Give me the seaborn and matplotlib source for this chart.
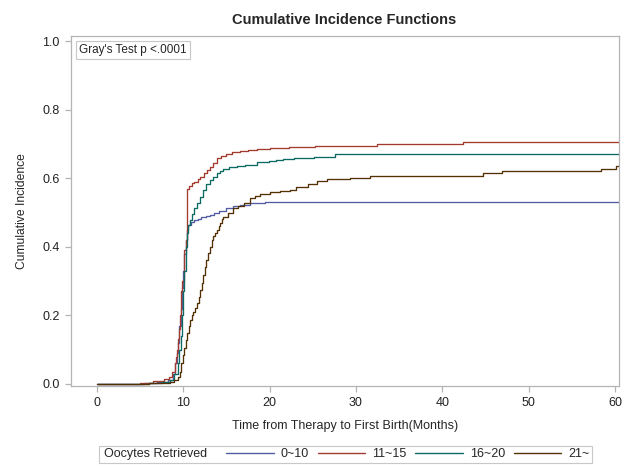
"""
Cumulative incidence of first birth by number of oocytes retrieved.
Step curves read off the published figure.
"""

import pandas as pd
import matplotlib.pyplot as plt
import seaborn as sns
from matplotlib.lines import Line2D
from matplotlib.patches import Rectangle

groups = ["0~10", "11~15", "16~20", "21~"]
colors = ["#525ca2", "#A23A2E", "#0b6a62", "#543005"]

# months since therapy / cumulative incidence (step starts)
t_0_10 = [0, 5.5, 7.0, 8.3, 8.8, 9.1, 9.25, 9.4, 9.55, 9.7, 9.85, 10.0, 10.15,
          10.3, 10.45, 10.6, 10.9, 11.3, 11.7, 12.1, 12.6, 13.1, 13.6, 14.2,
          15.0, 15.8, 16.6, 17.7, 19.5, 60.4]
cif_0_10 = [0, 0.003, 0.006, 0.012, 0.03, 0.06, 0.09, 0.12, 0.17, 0.22, 0.28,
            0.33, 0.38, 0.42, 0.45, 0.465, 0.472, 0.478, 0.482, 0.486, 0.490,
            0.494, 0.499, 0.505, 0.512, 0.518, 0.523, 0.528, 0.531, 0.531]

t_11_15 = [0, 5.0, 6.5, 7.8, 8.4, 8.7, 9.06, 9.2, 9.3, 9.4, 9.5, 9.6, 9.7, 9.8,
           9.9, 10.05, 10.15, 10.3, 10.4, 10.45, 10.7, 11.0, 11.3, 11.7, 12.0,
           12.4, 12.8, 13.1, 13.5, 13.9, 14.4, 15.0, 15.7, 16.6, 17.5, 18.5,
           20.0, 22.2, 25.3, 32.4, 42.4, 60.4]
cif_11_15 = [0, 0.003, 0.01, 0.014, 0.02, 0.035, 0.06, 0.08, 0.10, 0.13, 0.16,
             0.20, 0.235, 0.27, 0.30, 0.36, 0.39, 0.42, 0.50, 0.57, 0.578,
             0.585, 0.59, 0.598, 0.605, 0.615, 0.625, 0.633, 0.645, 0.658,
             0.665, 0.672, 0.676, 0.680, 0.683, 0.686, 0.687, 0.690, 0.693,
             0.700, 0.706, 0.706]

t_16_20 = [0, 6.0, 7.5, 8.5, 9.0, 9.4, 9.55, 9.7, 9.85, 10.0, 10.15, 10.3,
           10.45, 10.6, 10.8, 11.0, 11.3, 11.6, 11.9, 12.3, 12.7, 13.1, 13.5,
           13.9, 14.3, 14.65, 15.3, 16.2, 17.2, 18.5, 19.9, 20.8, 21.6, 22.8,
           25.1, 27.6, 60.4]
cif_16_20 = [0, 0.003, 0.006, 0.012, 0.03, 0.06, 0.10, 0.14, 0.20, 0.27, 0.33,
             0.40, 0.44, 0.465, 0.478, 0.495, 0.512, 0.527, 0.545, 0.566,
             0.582, 0.595, 0.605, 0.614, 0.621, 0.627, 0.632, 0.636, 0.640,
             0.647, 0.650, 0.653, 0.656, 0.658, 0.663, 0.670, 0.670]

t_21 = [0, 6.0, 7.5, 8.5, 9.0, 9.4, 9.6, 9.8, 10.0, 10.15, 10.3, 10.5, 10.65,
        10.8, 11.0, 11.2, 11.4, 11.6, 11.8, 12.0, 12.15, 12.35, 12.5, 12.7,
        12.9, 13.1, 13.3, 13.5, 13.7, 13.9, 14.1, 14.3, 14.5, 14.65, 15.2,
        15.8, 16.4, 17.0, 17.7, 18.3, 18.9, 20.1, 21.2, 22.4, 23.1, 24.5,
        25.5, 26.6, 29.3, 31.6, 44.7, 46.9, 58.4, 60.1, 60.4]
cif_21 = [0, 0.002, 0.004, 0.007, 0.012, 0.021, 0.035, 0.06, 0.085, 0.105,
          0.128, 0.15, 0.17, 0.187, 0.20, 0.21, 0.222, 0.235, 0.255, 0.275,
          0.294, 0.318, 0.34, 0.362, 0.383, 0.40, 0.42, 0.432, 0.441, 0.449,
          0.46, 0.47, 0.48, 0.488, 0.50, 0.512, 0.52, 0.527, 0.541, 0.547,
          0.553, 0.559, 0.563, 0.567, 0.575, 0.582, 0.592, 0.598, 0.601,
          0.608, 0.614, 0.621, 0.627, 0.636, 0.636]

x_ticks = [0, 10, 20, 30, 40, 50, 60]
y_ticks = [0.0, 0.2, 0.4, 0.6, 0.8, 1.0]

df = pd.concat([
    pd.DataFrame({"time": t, "cif": c, "group": g})
    for g, t, c in zip(groups, [t_0_10, t_11_15, t_16_20, t_21],
                       [cif_0_10, cif_11_15, cif_16_20, cif_21])
], ignore_index=True)

sns.set_style("ticks")
plt.rcParams["font.family"] = ["Liberation Sans", "DejaVu Sans"]
frame_gray = "#b4b4b4"

W, H = 633, 467
fig = plt.figure(figsize=(W / 100, H / 100), dpi=100)
ax = fig.add_axes([70.5 / W, 1 - 386 / H, 548.2 / W, 350 / H])

sns.lineplot(data=df, x="time", y="cif", hue="group", hue_order=groups,
             palette=dict(zip(groups, colors)), estimator=None, sort=False,
             drawstyle="steps-post", lw=0.95, legend=False, ax=ax)

ax.set_xlim(-3.03, 60.4)
ax.set_ylim(-0.006, 1.015)
ax.set_xticks(x_ticks)
ax.set_yticks(y_ticks)
ax.set_yticklabels([f"{v:.1f}" for v in y_ticks])
for s in ax.spines.values():
    s.set_visible(True)
    s.set_color(frame_gray)
    s.set_linewidth(0.9)
ax.tick_params(length=4, width=0.9, color=frame_gray, labelsize=9,
               labelcolor="#222222", pad=4)

ax.set_xlabel("Time from Therapy to First Birth(Months)", fontsize=9)
ax.set_ylabel("Cumulative Incidence", fontsize=8.7)
ax.xaxis.set_label_coords(0.5, (386 - 420) / 350)
ax.yaxis.set_label_coords((28 - 70.5) / 548.2, 0.5)

fig.text(344.6 / W, 1 - 19.5 / H, "Cumulative Incidence Functions",
         ha="center", va="center", fontsize=10.5, fontweight="bold")

ax.text(0.0155, 0.978, "Gray's Test p <.0001", transform=ax.transAxes,
        ha="left", va="top", fontsize=8.5,
        bbox=dict(boxstyle="square,pad=0.25", fc="white", ec="#c8c8c8", lw=0.8))

# legend: inline title + four entries inside one frame
leg_y = 1 - 454.4 / H
fig.text(103.5 / W, leg_y, "Oocytes Retrieved", ha="left", va="center", fontsize=9)
handles = [Line2D([], [], color=c, lw=1.0) for c in colors]
fig.legend(handles, groups, ncol=4, loc="center left",
           bbox_to_anchor=(226.5 / W, leg_y), frameon=False, fontsize=9,
           handlelength=3.8, handletextpad=0.55, columnspacing=0.7,
           borderpad=0, borderaxespad=0)
fig.patches.append(Rectangle((99.3 / W, 1 - 462.7 / H), (592 - 99.3) / W, 16.7 / H,
                             transform=fig.transFigure, fill=False,
                             ec="#c8c8c8", lw=0.8))

fig.savefig("out.png", dpi=100)
